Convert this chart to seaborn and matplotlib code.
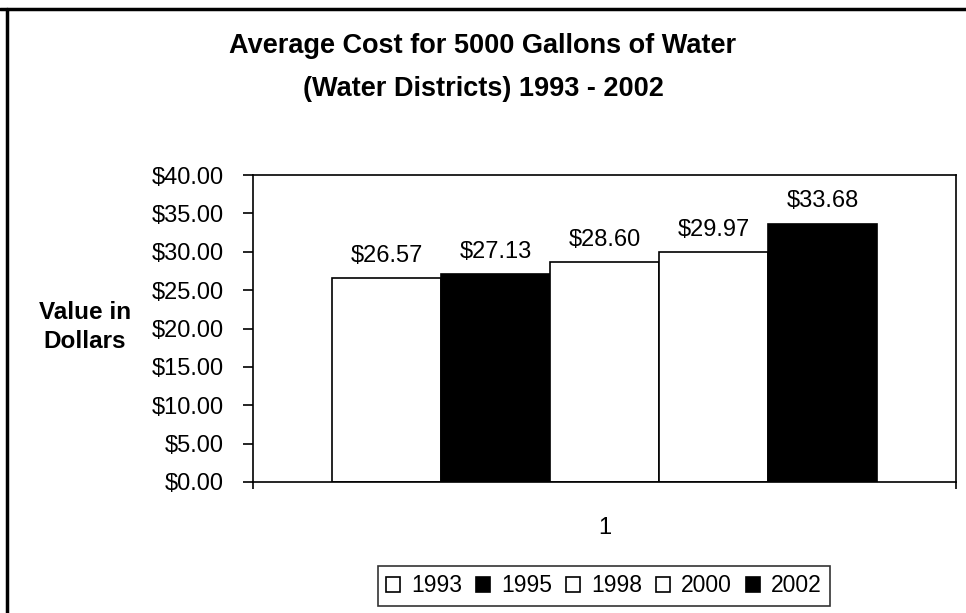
# Average cost for 5000 gallons of water, water districts 1993 - 2002
import matplotlib
matplotlib.use('Agg')
import matplotlib.pyplot as plt
from matplotlib.lines import Line2D
from matplotlib.ticker import StrMethodFormatter
import pandas as pd
import seaborn as sns

years = ['1993', '1995', '1998', '2000', '2002']
costs = [26.57, 27.13, 28.60, 29.97, 33.68]
category = ['1'] * len(years)
bar_colors = ['white', 'black', 'white', 'white', 'black']

sns.set_style('white')
plt.rcParams['font.family'] = ['Liberation Sans', 'DejaVu Sans']
plt.rcParams.update({'text.color': 'black', 'axes.labelcolor': 'black',
                     'xtick.color': 'black', 'ytick.color': 'black'})

df = pd.DataFrame({'cat': category, 'year': years, 'cost': costs})

fig = plt.figure(figsize=(9.66, 6.13), dpi=100)
ax = fig.add_axes([253 / 966, 131 / 613, 703 / 966, 307 / 613])

sns.barplot(data=df, x='cat', y='cost', hue='year', hue_order=years,
            palette=dict(zip(years, bar_colors)), edgecolor='black',
            linewidth=1.2, width=0.775, saturation=1, ax=ax)

# value labels above each bar
for cont in ax.containers:
    ax.bar_label(cont, fmt='${:.2f}', padding=8, fontsize=17, color='black')

ax.set_ylim(0, 40)
ax.set_xlim(-0.5, 0.5)
ax.yaxis.set_major_formatter(StrMethodFormatter('${x:.2f}'))
ax.set_yticks(range(0, 41, 5))
ax.tick_params(axis='y', labelsize=17, length=7, width=1.2, direction='out', pad=14, left=True)
ax.tick_params(axis='x', labelsize=17, length=0, pad=25)
ax.set_xticks([-0.5, 0.5], minor=True)
ax.tick_params(axis='x', which='minor', length=5, width=1.2, direction='out', bottom=True)
ax.set_xlabel('')
ax.set_ylabel('')
for sp in ax.spines.values():
    sp.set_color('black')
    sp.set_linewidth(1.2)

fig.text(85 / 966, 1 - 327 / 613, 'Value in\nDollars', ha='center', va='center',
         fontsize=17.5, fontweight='bold', multialignment='center', linespacing=1.3)

fig.suptitle('Average Cost for 5000 Gallons of Water\n(Water Districts) 1993 - 2002',
             x=0.5, y=1 - 33 / 613, va='top', fontsize=19.5, fontweight='bold', linespacing=1.85)

handles, labels = ax.get_legend_handles_labels()
leg = ax.legend(handles, labels, ncol=5, loc='center',
                bbox_to_anchor=(604 / 966, 1 - 586 / 613), bbox_transform=fig.transFigure,
                fontsize=16.5, frameon=True, fancybox=False, edgecolor='black',
                handlelength=0.6, handleheight=0.6, handletextpad=0.5,
                columnspacing=0.6, borderpad=0.35, borderaxespad=0)
leg.get_frame().set_linewidth(1.2)

# outer chart border (top and left edges visible)
fig.add_artist(Line2D([0, 1], [1 - 9 / 613, 1 - 9 / 613], color='black', lw=2.5,
                      transform=fig.transFigure))
fig.add_artist(Line2D([7 / 966, 7 / 966], [0, 1 - 9 / 613], color='black', lw=2.5,
                      transform=fig.transFigure))

fig.savefig('out.png', dpi=100)
